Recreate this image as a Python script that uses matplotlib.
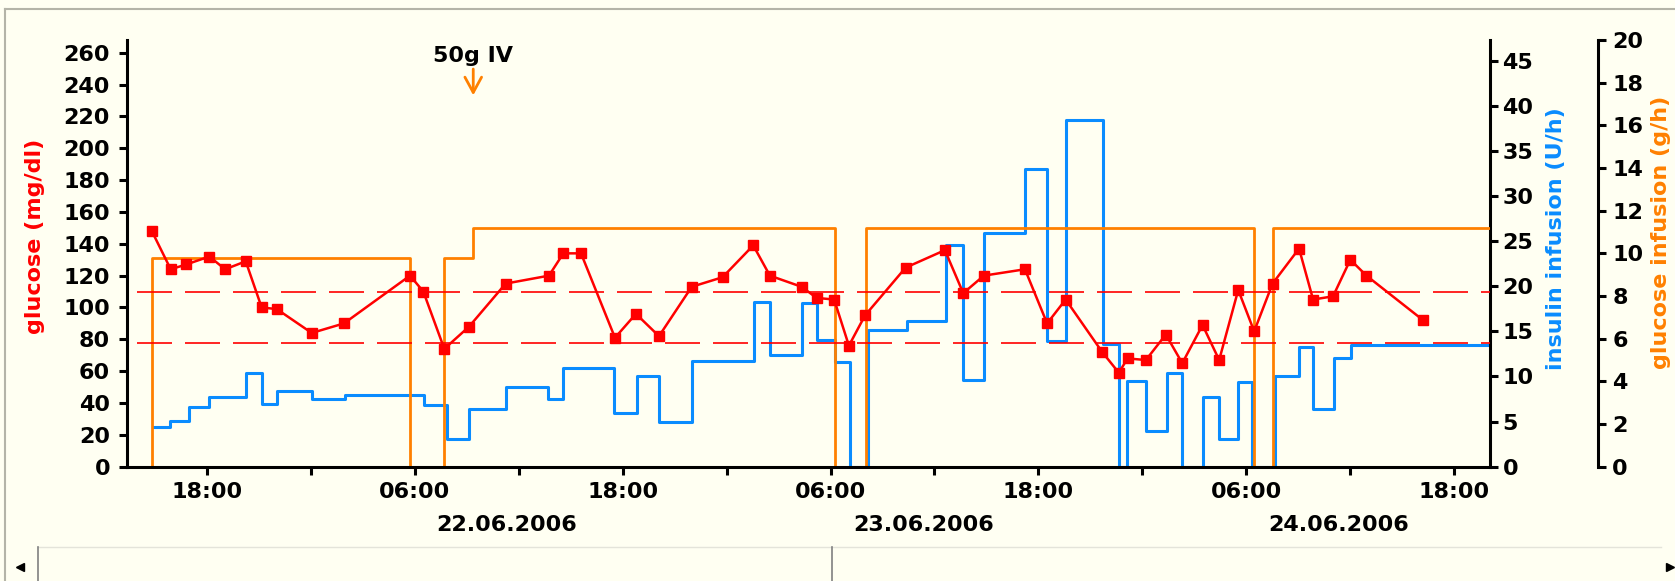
import matplotlib
matplotlib.use('Agg')
import matplotlib.pyplot as plt
from matplotlib.transforms import blended_transform_factory

plt.rcParams['font.family'] = ['DejaVu Sans']
plt.rcParams['font.weight'] = 'bold'
plt.rcParams['font.size'] = 16

BG = '#fffff2'
RED = '#ff0000'
BLUE = '#0a8cff'
ORANGE = '#ff8000'

# hours counted from 21.06.2006 00:00
glucose_t = [14.83, 15.92, 16.81, 18.15, 19.06, 20.25, 21.17, 22.04, 24.06, 25.92,
             29.73, 30.5, 31.71, 33.14, 35.25, 37.75, 38.58, 39.6, 41.56, 42.77,
             44.1, 45.99, 47.77, 49.54, 50.5, 52.33, 53.2, 54.21, 55.06, 55.99,
             58.33, 60.6, 61.66, 62.85, 65.22, 66.5, 67.57, 69.68, 70.64, 71.14,
             72.2, 73.35, 74.3, 75.47, 76.43, 77.53, 78.45, 79.51, 81.04, 81.85,
             83.0, 84.0, 84.93, 88.2]
glucose_v = [148, 124, 127, 132, 124, 129, 100, 99, 84, 90,
             120, 110, 74, 88, 115, 120, 134, 134, 81, 96,
             82, 113, 119, 139, 120, 113, 106, 105, 76, 95,
             125, 136, 109, 120, 124, 90, 105, 72, 59, 68,
             67, 83, 65, 89, 67, 111, 85, 115, 137, 105,
             107, 130, 120, 92]

insulin_t = [14.98, 15.88, 16.98, 18.13, 20.27, 21.21, 22.07, 24.06, 25.98, 30.54,
             31.88, 33.14, 35.27, 37.71, 38.58, 41.52, 42.85, 44.12, 45.99, 49.58,
             50.5, 52.37, 53.2, 54.26, 55.12, 56.14, 58.43, 60.64, 61.66, 62.87,
             65.22, 66.5, 67.58, 69.74, 70.64, 71.09, 72.2, 73.4, 74.3, 75.5,
             76.43, 77.53, 78.3, 79.64, 81.03, 81.85, 83.05, 84.03, 92.06]
insulin_v = [4.4, 5.1, 6.6, 7.7, 10.4, 7.0, 8.4, 7.5, 7.9, 6.8,
             3.1, 6.4, 8.8, 7.5, 10.9, 5.9, 10.1, 5.0, 11.7, 18.3,
             12.4, 18.2, 14.1, 11.6, 0, 15.2, 16.1, 24.6, 9.6, 25.9,
             33.0, 13.9, 38.4, 13.6, 0, 9.5, 4.0, 10.4, 0, 7.7,
             3.1, 9.4, 0, 10.1, 13.3, 6.4, 12.0, 13.5, 13.5]

ginf_t = [14.83, 14.83, 29.73, 31.69, 33.38, 54.26, 56.03, 78.45, 79.51, 92.06]
ginf_v = [0, 9.8, 0, 9.8, 11.2, 0, 11.2, 0, 11.2, 11.2]

target_low, target_high = 78, 110
bolus_t = 33.38
x_ticks = list(range(18, 91, 6))
dates = ['22.06.2006', '23.06.2006', '24.06.2006']
date_pos = [35.3, 59.4, 83.3]

W, H = 1675, 581
fig = plt.figure(figsize=(W / 100, H / 100), dpi=100, facecolor=BG)

# window frame and scrollbar strip
deco = fig.add_axes([0, 0, 1, 1], zorder=0)
deco.set_xlim(0, W)
deco.set_ylim(H, 0)
deco.axis('off')
deco.plot([5, W], [9, 9], color='#b4b4a8', lw=1.5)
deco.plot([5, 5], [9, H], color='#b4b4a8', lw=1.5)
deco.plot([38, W - 14], [547, 547], color='#e4e4da', lw=1)
deco.plot([38, 38], [547, H], color='#808080', lw=1.2)
deco.plot([832, 832], [547, H], color='#808080', lw=1.2)
deco.plot([20], [567], marker='<', color='black', ms=6)
deco.plot([1670], [567], marker='>', color='black', ms=6)

left, right, top, bottom = 126.7, 1490, 40, 466.7
ax = fig.add_axes([left / W, 1 - bottom / H, (right - left) / W, (bottom - top) / H])
ax_ins = ax.twinx()
ax_gi = ax.twinx()
ax.set_zorder(3)
ax_gi.set_zorder(2)
ax_ins.set_zorder(1)
for a in (ax, ax_ins, ax_gi):
    a.patch.set_visible(False)
    for s in a.spines.values():
        s.set_visible(False)
        s.set_linewidth(2.2)

ax_ins.plot(insulin_t, insulin_v, drawstyle='steps-post', color=BLUE, lw=2.2)
ax_gi.plot(ginf_t, ginf_v, drawstyle='steps-post', color=ORANGE, lw=2.0)

ax.hlines([target_high, target_low], 14.0, 92.06, color=RED, lw=1.2,
          linestyles=(0, (21, 7.8)))
ax.plot(glucose_t, glucose_v, color=RED, lw=1.8, marker='s', ms=7.5)

ax.set_xlim(13.38, 92.06)
ax.set_ylim(0, 268)
ax_ins.set_ylim(0, 47.3)
ax_gi.set_ylim(0, 20)

ax.spines['left'].set_visible(True)
ax.spines['bottom'].set_visible(True)
ax_ins.spines['right'].set_visible(True)
ax_gi.spines['right'].set_visible(True)
ax_gi.spines['right'].set_position(('axes', (1598.3 - left) / (right - left)))

ax.set_yticks(range(0, 261, 20))
ax_ins.set_yticks(range(0, 46, 5))
ax_gi.set_yticks(range(0, 21, 2))
ax.set_xticks(x_ticks)
ax.set_xticklabels(['18:00' if h % 24 == 18 else '06:00' if h % 24 == 6 else ''
                    for h in x_ticks])

ax.tick_params(axis='y', length=6, width=2.2, pad=6, labelsize=16)
ax.tick_params(axis='x', length=6, width=2.2, pad=5, labelsize=16)
ax_ins.tick_params(axis='y', length=6, width=2.2, pad=3, labelsize=16)
ax_gi.tick_params(axis='y', length=6, width=2.2, pad=4, labelsize=16)

trans = blended_transform_factory(ax.transData, ax.transAxes)
for d, p in zip(dates, date_pos):
    ax.text(p, -0.137, d, transform=trans, ha='center', va='center',
            fontsize=16, fontweight='bold', clip_on=False)

# bolus marker
ax.annotate('', xy=(bolus_t, 231.5), xytext=(bolus_t, 251.5),
            arrowprops=dict(arrowstyle='->,head_length=0.55,head_width=0.3',
                            color=ORANGE, lw=2, mutation_scale=20))
ax.text(bolus_t, 254, '50g IV', ha='center', va='baseline', fontsize=16,
        fontweight='bold', color='black', clip_on=False)

fig.text(35 / W, 1 - 236 / H, 'glucose (mg/dl)', color=RED, rotation=90,
         ha='center', va='center', fontsize=16, fontweight='bold')
fig.text(1556 / W, 1 - 239 / H, 'insulin infusion (U/h)', color=BLUE, rotation=90,
         ha='center', va='center', fontsize=16, fontweight='bold')
fig.text(1661 / W, 1 - 232 / H, 'glucose infusion (g/h)', color=ORANGE, rotation=90,
         ha='center', va='center', fontsize=16, fontweight='bold')

fig.savefig('out.png', dpi=100, facecolor=BG)
